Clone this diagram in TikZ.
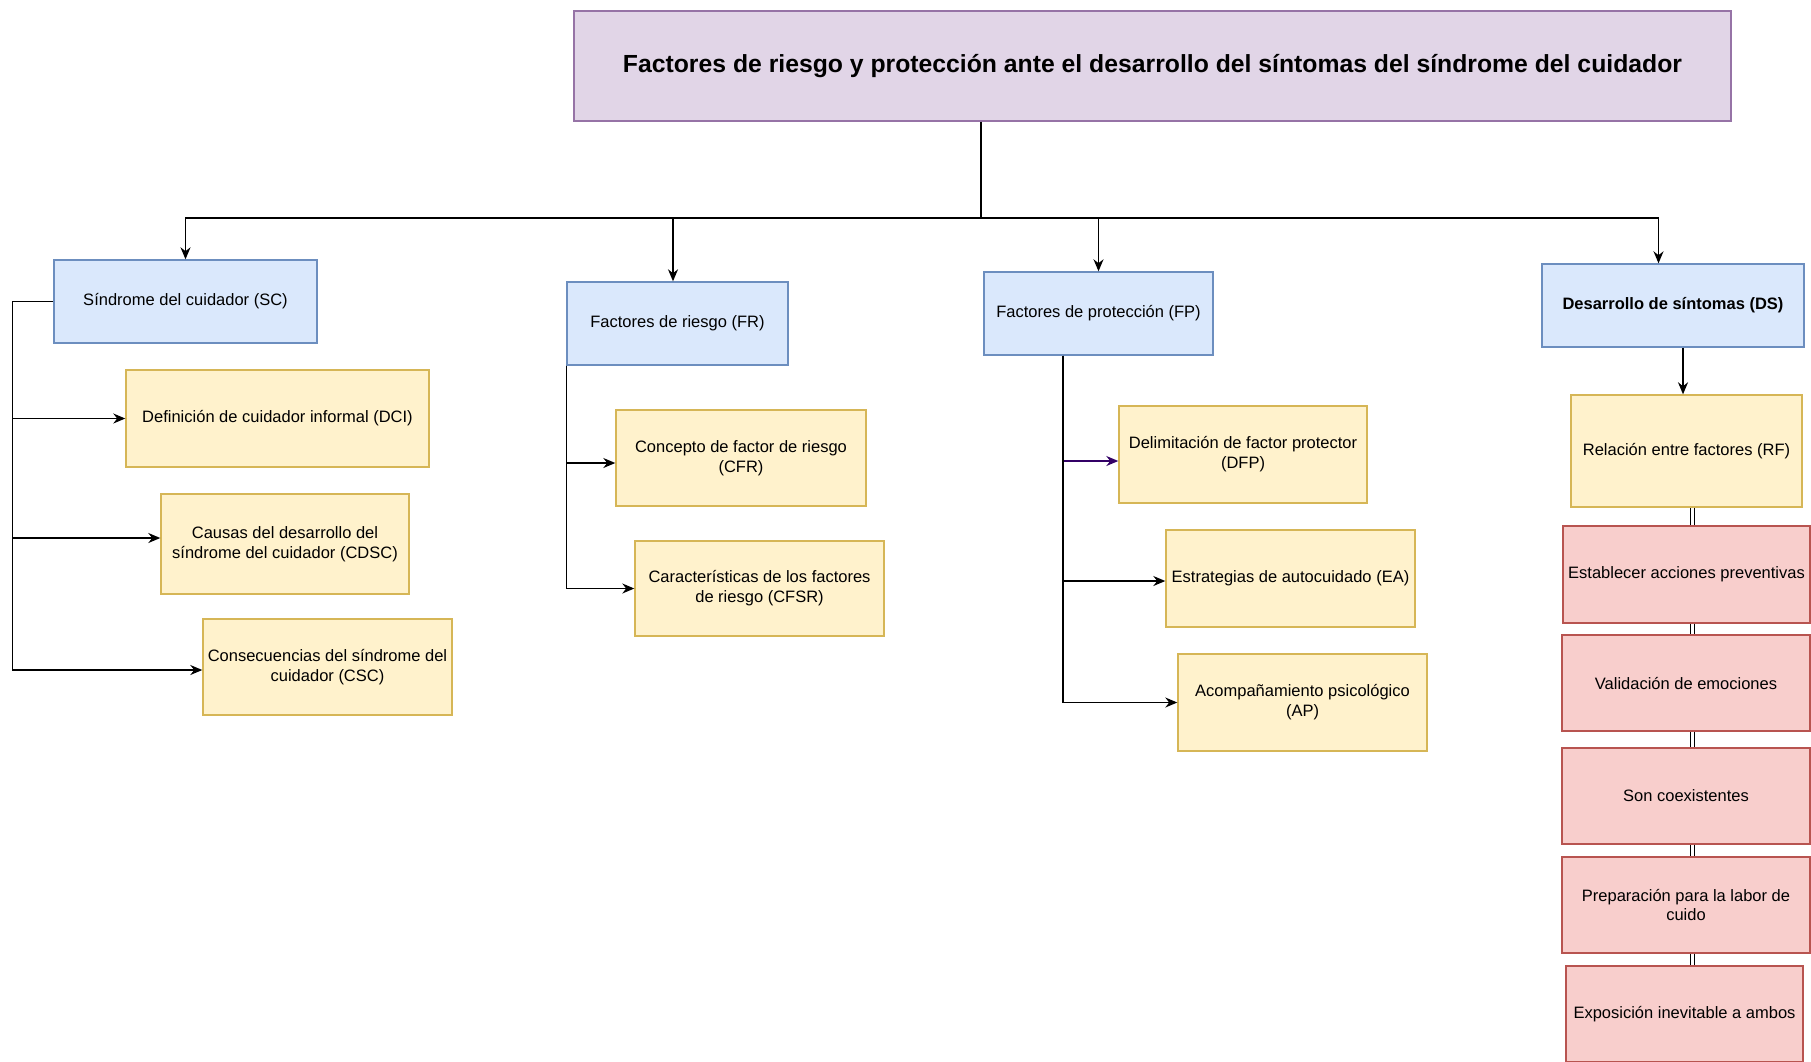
\documentclass[tikz,border=0pt]{standalone}
\usepackage{fontspec}
\setmainfont{Liberation Sans}
\usetikzlibrary{arrows.meta}
\definecolor{titlefill}{HTML}{E1D5E7}
\definecolor{titleline}{HTML}{9673A6}
\definecolor{mainfill}{HTML}{DAE8FC}
\definecolor{mainline}{HTML}{6C8EBF}
\definecolor{subfill}{HTML}{FFF2CC}
\definecolor{subline}{HTML}{D6B656}
\definecolor{notefill}{HTML}{F8CECC}
\definecolor{noteline}{HTML}{B85450}
\definecolor{dfpline}{HTML}{330066}

\begin{document}
\begin{tikzpicture}[x=1pt, y=-1pt, line width=1.4pt, >={Stealth[length=12pt,width=10pt]},
  box/.style={draw, inner sep=2pt, align=center, font=\fontsize{16.5}{19.8}\selectfont},
  titlebox/.style={box, fill=titlefill, draw=titleline, font=\fontsize{24.75}{29.7}\selectfont\bfseries},
  mainbox/.style={box, fill=mainfill, draw=mainline, minimum height=83},
  subbox/.style={box, fill=subfill, draw=subline, minimum width=249, minimum height=96},
  notebox/.style={box, fill=notefill, draw=noteline, minimum width=248, minimum height=96},
  dlink/.style={double, double distance=3pt, line width=1pt}]
\path [use as bounding box, fill=white] (0,0) rectangle (1811,1061);

\node [titlebox, minimum width=1157, minimum height=110] (title) at (1152.5,66) {Factores de riesgo y protección ante el desarrollo del síntomas del síndrome del cuidador};

\node [mainbox, minimum width=263] (SC) at (185.5,301.5) {Síndrome del cuidador (SC)};
\node [mainbox, minimum width=221] (FR) at (677.5,323.5) {Factores de riesgo (FR)};
\node [mainbox, minimum width=229] (FP) at (1098.5,313.5) {Factores de protección (FP)};
\node [mainbox, minimum width=262, font=\fontsize{16.5}{19.8}\selectfont\bfseries] (DS) at (1673,305.5) {Desarrollo de síntomas (DS)};

\node [subbox, minimum width=303, minimum height=97] (DCI) at (277.5,418.5) {Definición de cuidador informal (DCI)};
\node [subbox, minimum width=248, minimum height=100] (CDSC) at (285,544) {Causas del desarrollo del\\síndrome del cuidador (CDSC)};
\node [subbox] (CSC) at (327.5,667) {Consecuencias del síndrome del\\cuidador (CSC)};

\node [subbox, minimum width=250] (CFR) at (741,458) {Concepto de factor de riesgo\\(CFR)};
\node [subbox, minimum height=95] (CFSR) at (759.5,588.5) {Características de los factores\\de riesgo (CFSR)};

\node [subbox, minimum width=248, minimum height=97] (DFP) at (1243,454.5) {Delimitación de factor protector\\(DFP)};
\node [subbox, minimum height=97] (EA) at (1290.5,578.5) {Estrategias de autocuidado (EA)};
\node [subbox, minimum height=97] (AP) at (1302.5,702.5) {Acompañamiento psicológico\\(AP)};

\node [subbox, minimum width=231, minimum height=112] (RF) at (1686.5,451) {Relación entre factores (RF)};
\node [notebox, minimum width=247, minimum height=97] (EAP) at (1686.5,574.5) {Establecer acciones preventivas};
\node [notebox] (VE) at (1686,683) {Validación de emociones};
\node [notebox] (SCO) at (1686,796) {Son coexistentes};
\node [notebox] (PLC) at (1686,905) {Preparación para la labor de\\cuido};
\node [notebox, minimum width=237] (EIA) at (1684.5,1014) {Exposición inevitable a ambos};

\coordinate (hub) at (981,218);
\coordinate (scbus) at (12.5,301.5);
\coordinate (rfbus) at (1692,0);

\draw [->] (title.south -| hub) -- (hub) -| (SC.north);
\draw [->] (hub) -| ([xshift=-4.5pt]FR.north);
\draw [->] (hub) -| (FP.north);
\draw [->] (hub) -| ([xshift=-14.5pt]DS.north);

\draw [->] (SC.west) -- (scbus) |- (DCI.west);
\draw [->] (scbus) |- ([yshift=6pt]CDSC.west);
\draw [->] (scbus) |- ([yshift=-3pt]CSC.west);

\draw [->] (FR.south west) |- ([yshift=-5pt]CFR.west);
\draw [->] (FR.south west) |- (CFSR.west);

\draw [->, dfpline] ([xshift=-35.5pt]FP.south) |- ([yshift=-6.5pt]DFP.west);
\draw [->] ([xshift=-35.5pt]FP.south) |- ([yshift=-2.5pt]EA.west);
\draw [->] ([xshift=-35.5pt]FP.south) |- (AP.west);

\draw [->] ([xshift=-3.5pt]RF.north |- DS.south) -- ([xshift=-3.5pt]RF.north);
\draw [dlink] (RF.south -| rfbus) -- (EAP.north -| rfbus);
\draw [dlink] (EAP.south -| rfbus) -- (VE.north -| rfbus);
\draw [dlink] (VE.south -| rfbus) -- (SCO.north -| rfbus);
\draw [dlink] (SCO.south -| rfbus) -- (PLC.north -| rfbus);
\draw [dlink] (PLC.south -| rfbus) -- (EIA.north -| rfbus);
\end{tikzpicture}
\end{document}
